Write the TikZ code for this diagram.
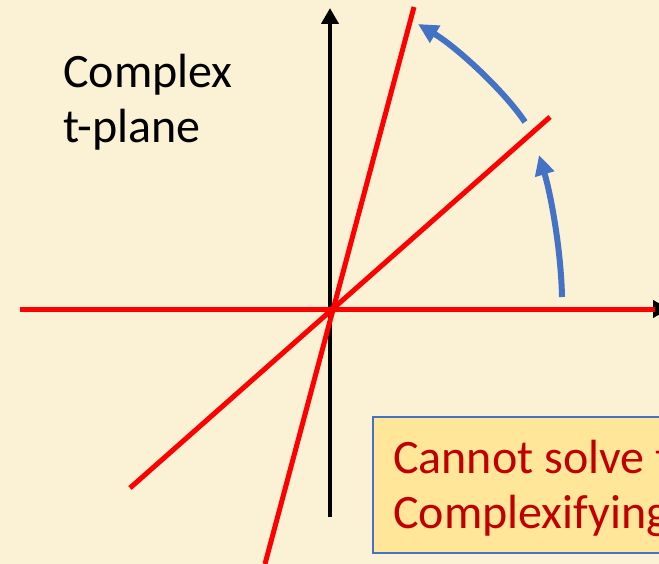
\documentclass[tikz,border=0pt]{standalone}
\usepackage{fontspec}
\setmainfont{Carlito}
\usetikzlibrary{arrows.meta}
\definecolor{parch}{RGB}{251,241,212}
\definecolor{lred}{RGB}{255,0,0}
\definecolor{dred}{RGB}{192,0,0}
\definecolor{sblue}{RGB}{68,114,196}
\definecolor{boxfill}{RGB}{255,230,153}
\tikzset{
  axis/.style={line width=4.5pt, black, -{Triangle[width=17pt,length=16pt]}},
  redline/.style={line width=5pt, lred},
  bluearrow/.style={line width=6pt, sblue, -{Triangle[width=19pt,length=20pt]}},
  bigtext/.style={font=\fontsize{48}{55}\selectfont, inner sep=0pt, anchor=base west},
  notebox/.style={draw=sblue, line width=1.5pt, fill=boxfill}
}
\begin{document}
\begin{tikzpicture}[x=1pt,y=-1pt]
\useasboundingbox (0,0) rectangle (659,564);
\clip (0,0) rectangle (659,564);
\fill[parch] (0,0) rectangle (659,564);
% coordinates
\coordinate (O) at (331,309);
\coordinate (vb) at (330,517);
\coordinate (vt) at (330,8);
\coordinate (hl) at (20,309);
\coordinate (hr) at (669,309);
\coordinate (hre) at (655,309);
\coordinate (s1) at (414,7);
\coordinate (s2) at (265,564);
\coordinate (d1) at (550,117);
\coordinate (d2) at (130,488);
\coordinate (a1s) at (562,297);
\coordinate (a1e) at (539,155);
\coordinate (a2s) at (525,122);
\coordinate (a2e) at (418,24);
% axes
\draw[axis] (vb) -- (vt);
\draw[axis] (hl) -- (hr);
% red lines
\draw[redline] (hl) -- (hre);
\draw[redline] (s2) -- (s1);
\draw[redline] (d2) -- (d1);
% blue arrows
\draw[bluearrow] (a1s) .. controls (561,250) and (551,195) .. (a1e);
\draw[bluearrow] (a2s) .. controls (505,92) and (458,48) .. (a2e);
% label
\node[bigtext] (lbl1) at (63,88) {Complex};
\node[bigtext] (lbl2) at (63,143) {t-plane};
% box
\draw[notebox] (373,417) rectangle (720,553);
\node[bigtext, text=dred] (box1) at (393,473) {Cannot solve t};
\node[bigtext, text=dred] (box2) at (393,528) {Complexifying};
\end{tikzpicture}
\end{document}
